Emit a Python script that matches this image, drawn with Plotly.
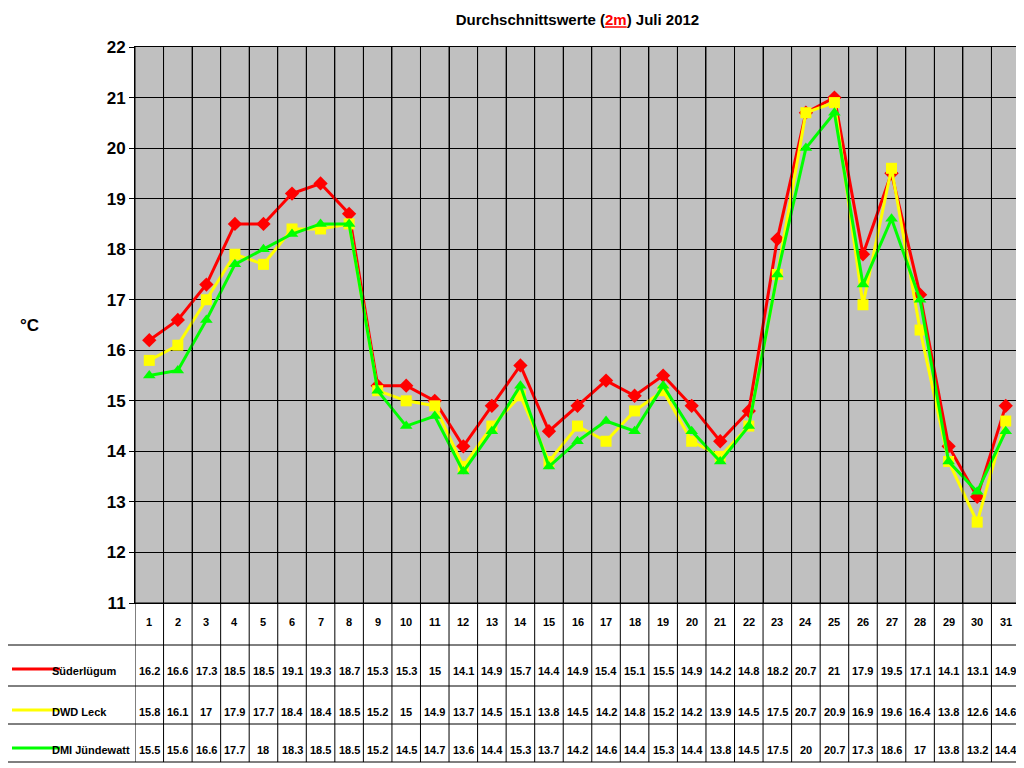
import plotly.graph_objects as go

days = list(range(1, 32))
sued = [16.2, 16.6, 17.3, 18.5, 18.5, 19.1, 19.3, 18.7, 15.3, 15.3, 15, 14.1, 14.9, 15.7, 14.4, 14.9,
        15.4, 15.1, 15.5, 14.9, 14.2, 14.8, 18.2, 20.7, 21, 17.9, 19.5, 17.1, 14.1, 13.1, 14.9]
leck = [15.8, 16.1, 17, 17.9, 17.7, 18.4, 18.4, 18.5, 15.2, 15, 14.9, 13.7, 14.5, 15.1, 13.8, 14.5,
        14.2, 14.8, 15.2, 14.2, 13.9, 14.5, 17.5, 20.7, 20.9, 16.9, 19.6, 16.4, 13.8, 12.6, 14.6]
dmi = [15.5, 15.6, 16.6, 17.7, 18, 18.3, 18.5, 18.5, 15.2, 14.5, 14.7, 13.6, 14.4, 15.3, 13.7, 14.2,
       14.6, 14.4, 15.3, 14.4, 13.8, 14.5, 17.5, 20, 20.7, 17.3, 18.6, 17, 13.8, 13.2, 14.4]
series = [("Süderlügum", sued, "#ff0000", "diamond"),
          ("DWD Leck", leck, "#ffff00", "square"),
          ("DMI Jündewatt", dmi, "#00ff00", "triangle-up")]

FONT = "Liberation Sans, Arial"
OFF = 8  # page body margin
W, H = 1024 - OFF, 768 - OFF
L, R, T, B = 135, 1020, 47, 603


def py(p):  # reference pixel y -> paper y
    return (B - p) / (B - T)


def px(p):
    return (p - L) / (R - L)


fig = go.Figure()
for name, vals, col, sym in series:
    fig.add_trace(go.Scatter(x=days, y=vals, name=name, mode="lines+markers",
                             line=dict(color=col, width=3),
                             marker=dict(symbol=sym, size=11, color=col)))

shapes = []
ann = []
rows = [603, 645, 686, 724, 762]
for i, r in enumerate(rows):
    x0 = 5 if i >= 1 else 135
    shapes.append(dict(type="line", xref="paper", yref="paper", x0=px(x0), x1=1,
                       y0=py(r), y1=py(r), line=dict(color="black", width=1)))
for k in range(32):
    shapes.append(dict(type="line", xref="x", yref="paper", x0=k + 0.5, x1=k + 0.5,
                       y0=py(762), y1=1, line=dict(color="black", width=1)))
shapes.append(dict(type="line", xref="paper", yref="paper", x0=px(5), x1=px(5),
                   y0=py(762), y1=py(645), line=dict(color="black", width=1)))

for d in days:
    ann.append(dict(x=d, y=py(630), xref="x", yref="paper", text=f"<b>{d}</b>",
                    showarrow=False, font=dict(size=11, family=FONT, color="black")))

# legend keys drawn as a scatter on an overlay axis in table area
key_x, key_y, key_c, key_s = [], [], [], []
for j, (name, vals, col, sym) in enumerate(series):
    ybase = rows[j + 1]
    ytxt = ybase + 34
    for d, v in zip(days, vals):
        ann.append(dict(x=d, y=py(ytxt), xref="x", yref="paper", text=f"<b>{v:g}</b>",
                        showarrow=False, font=dict(size=11, family=FONT, color="black")))
    ly = ybase + 24
    shapes.append(dict(type="line", xref="paper", yref="paper", x0=px(12), x1=px(60),
                       y0=py(ly), y1=py(ly), line=dict(color=col, width=3)))
    fig.add_trace(go.Scatter(x=[px(36)], y=[py(ly)], xaxis="x2", yaxis="y2", mode="markers",
                             marker=dict(symbol=sym, size=11, color=col), hoverinfo="skip"))
    ann.append(dict(x=px(50), y=py(ytxt), xref="paper", yref="paper", text=f"<b>{name}</b>",
                    xanchor="left", showarrow=False, font=dict(size=11, family=FONT, color="black")))

ann.append(dict(x=px(18), y=py(325), xref="paper", yref="paper", text="<b>°C</b>",
                showarrow=False, font=dict(size=17, family=FONT, color="black")))

fig.update_layout(
    width=W, height=H, showlegend=False,
    margin=dict(l=L - OFF, r=1024 - R, t=T - OFF, b=768 - B),
    paper_bgcolor="white", plot_bgcolor="#c0c0c0",
    title=dict(text="<b>Durchschnittswerte (<span style='color:red'><u>2m</u></span>) Juli 2012</b>",
               x=0.5, xref="paper", y=1 - (20 - OFF) / H, yanchor="middle",
               font=dict(size=15, family=FONT, color="black")),
    xaxis=dict(range=[0.5, 31.5], tickvals=[k + 0.5 for k in range(32)], showticklabels=False,
               showgrid=True, gridcolor="black", gridwidth=1, zeroline=False,
               showline=True, linecolor="black", mirror=True, ticks=""),
    yaxis=dict(range=[11, 22], dtick=1, showgrid=True, gridcolor="black", gridwidth=1,
               zeroline=False, showline=True, linecolor="black", mirror=True,
               ticks="outside", ticklen=5, tickcolor="black",
               tickfont=dict(size=17, family=FONT, color="black"), tickprefix="<b>", ticksuffix="</b>"),
    xaxis2=dict(overlaying="x", range=[0, 1], visible=False, anchor="y2"),
    yaxis2=dict(overlaying="y", range=[0, 1], visible=False, anchor="x2"),
    shapes=shapes, annotations=ann,
)
fig.write_html("out.html", config={"displayModeBar": False})
